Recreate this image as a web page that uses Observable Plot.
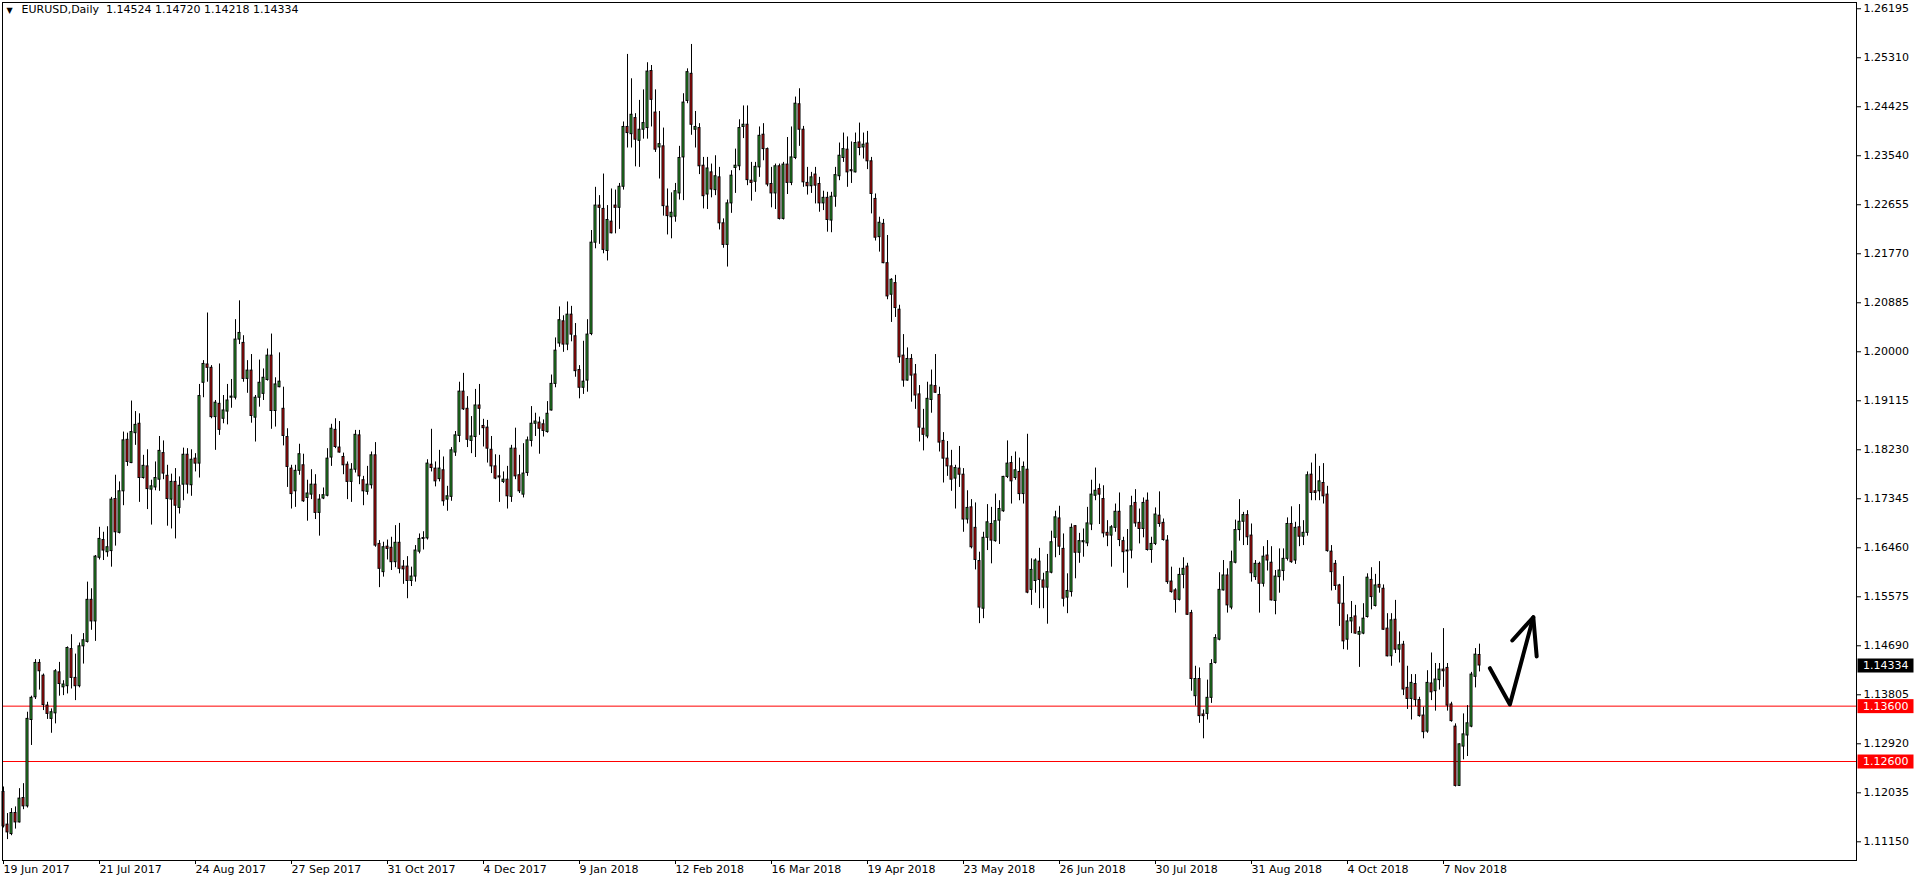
<!DOCTYPE html>
<html><head><meta charset="utf-8">
<script src="https://cdn.jsdelivr.net/npm/d3@7"></script>
<script src="https://cdn.jsdelivr.net/npm/@observablehq/plot@0.6"></script>
<style>
html,body{margin:0;padding:0;background:#fff;}
#chart svg{display:block;}
</style></head><body><div id="chart"></div>
<script>
const symbolName = "EURUSD,Daily";
const opens = [
1.1205,1.1146,1.1129,1.1167,1.1150,1.1194,1.1179,1.1335,1.1376,1.1438,
1.1415,1.1361,1.1337,1.1347,1.1421,1.1394,1.1396,1.1463,1.1411,1.1396,
1.1468,1.1476,1.1552,1.1513,1.1628,1.1660,1.1638,1.1640,1.1734,1.1673,
1.1748,1.1841,1.1799,1.1853,1.1870,1.1772,1.1793,1.1751,1.1755,1.1769,
1.1817,1.1776,1.1733,1.1765,1.1718,1.1760,1.1814,1.1759,1.1807,1.1798,
1.1944,1.1977,1.1971,1.1882,1.1906,1.1879,1.1892,1.1917,1.1917,1.2022,
1.2016,1.1951,1.1966,1.1881,1.1917,1.1924,1.1949,1.1993,1.1893,1.1936,
1.1897,1.1846,1.1789,1.1748,1.1785,1.1795,1.1736,1.1742,1.1760,1.1709,
1.1735,1.1740,1.1809,1.1859,1.1827,1.1810,1.1796,1.1765,1.1787,1.1849,
1.1768,1.1747,1.1759,1.1813,1.1653,1.1602,1.1648,1.1646,1.1620,1.1655,
1.1612,1.1612,1.1586,1.1594,1.1639,1.1662,1.1663,1.1796,1.1789,1.1770,
1.1786,1.1733,1.1738,1.1818,1.1848,1.1928,1.1897,1.1839,1.1846,1.1903,
1.1866,1.1863,1.1823,1.1793,1.1775,1.1765,1.1769,1.1738,1.1825,1.1777,
1.1742,1.1781,1.1839,1.1870,1.1872,1.1869,1.1855,1.1894,1.1942,1.2015,
1.2055,1.2013,1.2067,1.2028,1.1967,1.1935,1.1948,1.2032,1.2197,1.2264,
1.2258,1.2182,1.2235,1.2264,1.2260,1.2298,1.2406,1.2393,1.2422,1.2381,
1.2401,1.2404,1.2507,1.2432,1.2369,1.2371,1.2262,1.2243,1.2244,1.2286,
1.2351,1.2453,1.2502,1.2401,1.2404,1.2336,1.2284,1.2324,1.2292,1.2315,
1.2232,1.2193,1.2268,1.2332,1.2335,1.2406,1.2410,1.2309,1.2307,1.2333,
1.2392,1.2366,1.2303,1.2286,1.2335,1.2240,1.2338,1.2305,1.2350,1.2447,
1.2401,1.2305,1.2299,1.2320,1.2303,1.2268,1.2278,1.2237,1.2280,1.2317,
1.2350,1.2365,1.2328,1.2324,1.2378,1.2369,1.2376,1.2344,1.2276,1.2207,
1.2231,1.2160,1.2103,1.2124,1.2076,1.1993,1.1948,1.1987,1.1959,1.1923,
1.1861,1.1847,1.1913,1.1938,1.1922,1.1839,1.1807,1.1793,1.1771,1.1789,
1.1778,1.1697,1.1719,1.1682,1.1622,1.1536,1.1664,1.1689,1.1658,1.1695,
1.1712,1.1774,1.1799,1.1772,1.1783,1.1743,1.1787,1.1570,1.1586,1.1621,
1.1587,1.1574,1.1601,1.1664,1.1699,1.1644,1.1556,1.1566,1.1685,1.1637,
1.1656,1.1654,1.1688,1.1740,1.1752,1.1734,1.1673,1.1668,1.1682,1.1711,
1.1658,1.1641,1.1641,1.1727,1.1691,1.1680,1.1731,1.1642,1.1653,1.1704,
1.1691,1.1659,1.1585,1.1569,1.1552,1.1597,1.1612,1.1528,1.1378,1.1409,
1.1345,1.1346,1.1375,1.1438,1.1480,1.1569,1.1596,1.1538,1.1619,1.1678,
1.1693,1.1705,1.1668,1.1593,1.1617,1.1581,1.1632,1.1619,1.1550,1.1593,
1.1604,1.1626,1.1689,1.1623,1.1683,1.1666,1.1673,1.1778,1.1748,1.1748,
1.1763,1.1742,1.1639,1.1617,1.1578,1.1545,1.1480,1.1513,1.1522,1.1489,
1.1491,1.1521,1.1588,1.1541,1.1579,1.1572,1.1500,1.1450,1.1516,1.1462,
1.1471,1.1393,1.1373,1.1400,1.1371,1.1343,1.1314,1.1401,1.1387,1.1407,
1.1426,1.1429,1.1363,1.1323,1.1216,1.1287,1.1307,1.1323,1.1413,1.14524];
const highs = [
1.1214,1.1166,1.1175,1.1178,1.1211,1.1220,1.1349,1.1378,1.1444,1.1444,
1.1418,1.1367,1.1355,1.1426,1.1439,1.1406,1.1467,1.1489,1.1454,1.1474,
1.1491,1.1584,1.1572,1.1632,1.1683,1.1674,1.1684,1.1737,1.1777,1.1765,
1.1855,1.1853,1.1911,1.1892,1.1888,1.1813,1.1823,1.1768,1.1801,1.1847,
1.1839,1.1795,1.1779,1.1789,1.1774,1.1826,1.1825,1.1823,1.1816,1.1941,
1.1984,1.2070,1.1975,1.1912,1.1978,1.1921,1.1941,1.1950,1.2058,1.2092,
1.2029,1.1984,1.1995,1.1921,1.1985,1.1969,1.2005,1.2032,1.1953,1.1998,
1.1936,1.1861,1.1795,1.1795,1.1833,1.1815,1.1768,1.1787,1.1778,1.1742,
1.1754,1.1825,1.1869,1.1879,1.1874,1.1817,1.1801,1.1798,1.1858,1.1858,
1.1775,1.1793,1.1819,1.1836,1.1659,1.1656,1.1660,1.1665,1.1686,1.1690,
1.1623,1.1630,1.1611,1.1650,1.1671,1.1675,1.1805,1.1860,1.1801,1.1822,
1.1810,1.1757,1.1827,1.1856,1.1945,1.1961,1.1919,1.1883,1.1932,1.1941,
1.1878,1.1876,1.1847,1.1814,1.1813,1.1783,1.1793,1.1831,1.1862,1.1813,
1.1834,1.1846,1.1901,1.1889,1.1882,1.1877,1.1910,1.1958,1.2025,1.2081,
1.2065,1.2090,1.2082,1.2051,1.1975,1.2019,1.2058,1.2219,1.2297,1.2282,
1.2321,1.2264,1.2294,1.2292,1.2304,1.2415,1.2537,1.2493,1.2430,1.2454,
1.2473,1.2522,1.2517,1.2473,1.2434,1.2404,1.2294,1.2287,1.2304,1.2371,
1.2466,1.2511,1.2555,1.2434,1.2412,1.2351,1.2351,1.2339,1.2354,1.2333,
1.2240,1.2274,1.2327,1.2366,1.2419,1.2444,1.2444,1.2342,1.2342,1.2406,
1.2412,1.2368,1.2333,1.2339,1.2339,1.2342,1.2387,1.2406,1.2460,1.2475,
1.2407,1.2333,1.2324,1.2333,1.2315,1.2290,1.2288,1.2288,1.2333,1.2377,
1.2395,1.2388,1.2379,1.2395,1.2413,1.2395,1.2398,1.2351,1.2285,1.2243,
1.2239,1.2210,1.2132,1.2138,1.2084,1.2031,1.2007,1.1995,1.1977,1.1939,
1.1896,1.1945,1.1967,1.1995,1.1936,1.1854,1.1838,1.1822,1.1795,1.1829,
1.1789,1.1749,1.1733,1.1727,1.1638,1.1674,1.1724,1.1719,1.1743,1.1731,
1.1775,1.1839,1.1811,1.1819,1.1808,1.1801,1.1851,1.1626,1.1626,1.1645,
1.1600,1.1634,1.1676,1.1712,1.1721,1.1671,1.1599,1.1689,1.1686,1.1672,
1.1680,1.1719,1.1768,1.1790,1.1761,1.1758,1.1695,1.1686,1.1725,1.1745,
1.1665,1.1679,1.1739,1.1751,1.1716,1.1736,1.1745,1.1665,1.1718,1.1747,
1.1698,1.1668,1.1611,1.1572,1.1609,1.1628,1.1618,1.1533,1.1432,1.1429,
1.1353,1.1407,1.1444,1.1489,1.1601,1.1623,1.1608,1.1640,1.1696,1.1733,
1.1710,1.1713,1.1689,1.1623,1.1620,1.1648,1.1659,1.1648,1.1605,1.1644,
1.1644,1.1700,1.1720,1.1692,1.1724,1.1695,1.1783,1.1799,1.1815,1.1793,
1.1798,1.1757,1.1650,1.1623,1.1580,1.1594,1.1525,1.1549,1.1542,1.1503,
1.1545,1.1599,1.1610,1.1598,1.1621,1.1579,1.1527,1.1527,1.1551,1.1494,
1.1477,1.1432,1.1417,1.1417,1.1376,1.1358,1.1424,1.1456,1.1437,1.1437,
1.1500,1.1437,1.1367,1.1328,1.1292,1.1346,1.1361,1.1421,1.1464,1.14720];
const lows = [
1.1140,1.1119,1.1126,1.1138,1.1149,1.1173,1.1176,1.1289,1.1372,1.1389,
1.1352,1.1336,1.1311,1.1328,1.1378,1.1379,1.1382,1.1391,1.1370,1.1393,
1.1436,1.1474,1.1497,1.1477,1.1624,1.1623,1.1629,1.1611,1.1649,1.1671,
1.1722,1.1793,1.1798,1.1831,1.1728,1.1770,1.1715,1.1687,1.1749,1.1748,
1.1769,1.1685,1.1680,1.1662,1.1707,1.1731,1.1743,1.1739,1.1783,1.1772,
1.1917,1.1945,1.1879,1.1822,1.1849,1.1870,1.1868,1.1898,1.1913,1.2013,
1.1945,1.1925,1.1871,1.1837,1.1900,1.1912,1.1947,1.1860,1.1864,1.1935,
1.1830,1.1755,1.1716,1.1719,1.1777,1.1728,1.1694,1.1733,1.1697,1.1667,
1.1733,1.1738,1.1793,1.1825,1.1817,1.1778,1.1733,1.1728,1.1781,1.1760,
1.1722,1.1741,1.1752,1.1647,1.1574,1.1593,1.1624,1.1605,1.1610,1.1599,
1.1580,1.1554,1.1576,1.1584,1.1635,1.1642,1.1660,1.1783,1.1756,1.1765,
1.1721,1.1712,1.1730,1.1811,1.1836,1.1894,1.1827,1.1816,1.1809,1.1849,
1.1828,1.1799,1.1780,1.1769,1.1728,1.1762,1.1716,1.1728,1.1769,1.1744,
1.1736,1.1775,1.1828,1.1847,1.1815,1.1846,1.1853,1.1893,1.1935,1.2008,
1.1999,1.2002,1.2018,1.1954,1.1915,1.1923,1.1927,1.2029,1.2186,1.2194,
1.2177,1.2164,1.2213,1.2213,1.2221,1.2292,1.2368,1.2368,1.2334,1.2333,
1.2384,1.2384,1.2406,1.2360,1.2312,1.2245,1.2211,1.2204,1.2234,1.2274,
1.2273,1.2448,1.2391,1.2368,1.2320,1.2258,1.2257,1.2278,1.2282,1.2220,
1.2187,1.2153,1.2250,1.2286,1.2327,1.2385,1.2300,1.2272,1.2288,1.2315,
1.2345,1.2298,1.2260,1.2257,1.2238,1.2238,1.2284,1.2300,1.2347,1.2371,
1.2297,1.2283,1.2286,1.2267,1.2252,1.2255,1.2216,1.2215,1.2261,1.2309,
1.2342,1.2297,1.2304,1.2323,1.2354,1.2348,1.2329,1.2249,1.2200,1.2180,
1.2159,1.2094,1.2053,1.2062,1.1979,1.1936,1.1947,1.1909,1.1896,1.1837,
1.1821,1.1843,1.1889,1.1925,1.1819,1.1763,1.1775,1.1748,1.1716,1.1755,
1.1674,1.1689,1.1644,1.1606,1.1509,1.1518,1.1641,1.1617,1.1656,1.1652,
1.1710,1.1771,1.1725,1.1768,1.1731,1.1725,1.1563,1.1542,1.1564,1.1536,
1.1536,1.1508,1.1599,1.1628,1.1632,1.1539,1.1527,1.1557,1.1590,1.1618,
1.1629,1.1648,1.1677,1.1731,1.1688,1.1664,1.1648,1.1611,1.1674,1.1648,
1.1600,1.1573,1.1626,1.1683,1.1653,1.1664,1.1640,1.1618,1.1650,1.1683,
1.1658,1.1580,1.1564,1.1528,1.1550,1.1572,1.1524,1.1387,1.1360,1.1329,
1.1301,1.1335,1.1365,1.1436,1.1478,1.1568,1.1528,1.1534,1.1617,1.1658,
1.1650,1.1650,1.1584,1.1587,1.1528,1.1575,1.1604,1.1550,1.1525,1.1564,
1.1586,1.1622,1.1618,1.1616,1.1648,1.1650,1.1667,1.1731,1.1731,1.1731,
1.1725,1.1638,1.1568,1.1569,1.1504,1.1462,1.1461,1.1491,1.1490,1.1430,
1.1489,1.1519,1.1534,1.1539,1.1564,1.1497,1.1449,1.1432,1.1455,1.1438,
1.1379,1.1354,1.1335,1.1359,1.1340,1.1301,1.1311,1.1370,1.1351,1.1389,
1.1394,1.1351,1.1331,1.1214,1.1215,1.1263,1.1269,1.1321,1.1393,1.14218];
const closes = [
1.1143,1.1132,1.1167,1.1150,1.1193,1.1179,1.1337,1.1375,1.1438,1.1423,
1.1362,1.1346,1.1349,1.1423,1.1400,1.1399,1.1465,1.1411,1.1396,1.1468,
1.1479,1.1552,1.1513,1.1630,1.1662,1.1641,1.1647,1.1733,1.1674,1.1748,
1.1840,1.1801,1.1855,1.1868,1.1772,1.1794,1.1752,1.1757,1.1772,1.1821,
1.1780,1.1734,1.1765,1.1722,1.1758,1.1814,1.1760,1.1805,1.1798,1.1920,
1.1978,1.1971,1.1882,1.1908,1.1859,1.1894,1.1912,1.1919,1.2022,1.2034,
1.1951,1.1966,1.1884,1.1917,1.1944,1.1953,1.1993,1.1893,1.1941,1.1946,
1.1848,1.1792,1.1743,1.1785,1.1815,1.1730,1.1744,1.1760,1.1709,1.1733,
1.1741,1.1807,1.1861,1.1828,1.1818,1.1795,1.1765,1.1787,1.1850,1.1775,
1.1748,1.1760,1.1813,1.1650,1.1608,1.1647,1.1644,1.1620,1.1655,1.1608,
1.1607,1.1586,1.1594,1.1641,1.1662,1.1663,1.1798,1.1790,1.1766,1.1789,
1.1730,1.1739,1.1822,1.1849,1.1928,1.1896,1.1841,1.1847,1.1903,1.1897,
1.1862,1.1825,1.1793,1.1771,1.1773,1.1769,1.1739,1.1825,1.1775,1.1748,
1.1780,1.1840,1.1870,1.1874,1.1861,1.1857,1.1888,1.1942,1.2002,1.2057,
1.2013,1.2067,1.2031,1.1965,1.1935,1.1946,1.2031,1.2197,1.2264,1.2260,
1.2184,1.2238,1.2214,1.2260,1.2298,1.2406,1.2395,1.2428,1.2383,1.2401,
1.2413,1.2506,1.2455,1.2365,1.2375,1.2263,1.2245,1.2251,1.2290,1.2350,
1.2450,1.2505,1.2410,1.2406,1.2335,1.2281,1.2331,1.2293,1.2317,1.2232,
1.2193,1.2268,1.2318,1.2336,1.2404,1.2410,1.2310,1.2305,1.2334,1.2390,
1.2366,1.2302,1.2286,1.2335,1.2240,1.2338,1.2305,1.2351,1.2448,1.2401,
1.2306,1.2299,1.2315,1.2300,1.2268,1.2278,1.2238,1.2280,1.2319,1.2354,
1.2366,1.2324,1.2326,1.2377,1.2368,1.2374,1.2344,1.2285,1.2206,1.2233,
1.2160,1.2100,1.2130,1.2079,1.1990,1.1948,1.1987,1.1957,1.1921,1.1863,
1.1850,1.1915,1.1939,1.1926,1.1836,1.1807,1.1793,1.1769,1.1790,1.1778,
1.1697,1.1718,1.1647,1.1624,1.1538,1.1664,1.1692,1.1659,1.1694,1.1716,
1.1774,1.1798,1.1766,1.1786,1.1743,1.1792,1.1565,1.1606,1.1623,1.1588,
1.1574,1.1602,1.1656,1.1701,1.1648,1.1554,1.1568,1.1682,1.1637,1.1658,
1.1658,1.1690,1.1742,1.1749,1.1742,1.1672,1.1668,1.1683,1.1711,1.1660,
1.1638,1.1640,1.1721,1.1690,1.1680,1.1727,1.1642,1.1653,1.1706,1.1689,
1.1660,1.1584,1.1566,1.1552,1.1597,1.1608,1.1525,1.1409,1.1409,1.1342,
1.1342,1.1375,1.1436,1.1483,1.1570,1.1596,1.1542,1.1620,1.1678,1.1693,
1.1705,1.1665,1.1600,1.1617,1.1581,1.1630,1.1623,1.1551,1.1594,1.1605,
1.1626,1.1689,1.1620,1.1682,1.1666,1.1673,1.1777,1.1745,1.1745,1.1766,
1.1739,1.1640,1.1602,1.1577,1.1545,1.1477,1.1513,1.1519,1.1491,1.1494,
1.1518,1.1592,1.1557,1.1578,1.1574,1.1498,1.1450,1.1515,1.1462,1.1470,
1.1390,1.1373,1.1402,1.1371,1.1342,1.1313,1.1402,1.1385,1.1408,1.1426,
1.1423,1.1361,1.1333,1.1216,1.1291,1.1309,1.1329,1.1417,1.1453,1.14334];

const dateLabels = ["19 Jun 2017","21 Jul 2017","24 Aug 2017","27 Sep 2017","31 Oct 2017","4 Dec 2017","9 Jan 2018","12 Feb 2018","16 Mar 2018","19 Apr 2018","23 May 2018","26 Jun 2018","30 Jul 2018","31 Aug 2018","4 Oct 2018","7 Nov 2018"];
const dateLabelBars = [0,24,48,72,96,120,144,168,192,216,240,264,288,312,336,360];
const priceTicks = [1.11150,1.12035,1.12920,1.13805,1.14690,1.15575,1.16460,1.17345,1.18230,1.19115,1.20000,1.20885,1.21770,1.22655,1.23540,1.24425,1.25310,1.26195];
const levelLines = [1.13600, 1.12600];
const arrowStroke = [{bar:371.6, price:1.14285},{bar:376.6, price:1.13630},{bar:382.45, price:1.15206}];
const arrowHead = [{bar:377.2, price:1.14786},{bar:382.45, price:1.15206},{bar:383.3, price:1.14497}];

const GREEN = "#32b432", RED = "#e01010";
const W = 1916, H = 884, ML = 2, MT = 2, MR = 60, MB = 24;
const candles = opens.map((o, i) => ({i, o, h: highs[i], l: lows[i], c: closes[i]}));
const lastBar = candles[candles.length - 1];
const fmt5 = d3.format(".5f");
const labelByBar = new Map(dateLabelBars.map((b, k) => [b, dateLabels[k]]));
const minBody = 0.00016;

const plot = Plot.plot({
  width: W, height: H,
  marginLeft: ML, marginTop: MT, marginRight: MR, marginBottom: MB,
  style: {fontFamily: "DejaVu Sans", fontSize: "11px", color: "#000", background: "#fff", overflow: "visible"},
  x: {domain: [-0.25, -0.25 + (W - MR - ML) / 4], axis: null},
  y: {domain: [1.108123, 1.263079], axis: null},
  marks: [
    Plot.ruleY(levelLines, {stroke: "#ff0000", strokeWidth: 1}),
    Plot.ruleX(candles, {x: "i", y1: "l", y2: "h", stroke: "#000", strokeWidth: 1}),
    Plot.rect(candles, {
      x1: d => d.i - 0.25, x2: d => d.i + 0.25,
      y1: "o",
      y2: d => Math.abs(d.c - d.o) < minBody ? d.o + (d.c >= d.o ? minBody : -minBody) : d.c,
      fill: d => d.c >= d.o ? GREEN : RED, stroke: "#000", strokeWidth: 1
    }),
    Plot.axisY({anchor: "right", ticks: priceTicks, tickSize: 4, tickPadding: 3, tickFormat: fmt5, fontSize: 11}),
    Plot.axisX({anchor: "bottom", ticks: dateLabelBars, tickSize: 4, tickPadding: 1, textAnchor: "start", dx: 0, tickFormat: d => labelByBar.get(d), fontSize: 11}),
    Plot.frame({stroke: "#000"}),
    Plot.line(arrowStroke, {x: "bar", y: "price", stroke: "#000", strokeWidth: 4, strokeLinecap: "round", strokeLinejoin: "round"}),
    Plot.line(arrowHead, {x: "bar", y: "price", stroke: "#000", strokeWidth: 4, strokeLinecap: "round", strokeLinejoin: "round"}),
    Plot.text(["\u25BC"], {frameAnchor: "top-left", dx: 4, dy: 5, fontSize: 8, fill: "#000"}),
    Plot.text([`${symbolName}  ${fmt5(lastBar.o)} ${fmt5(lastBar.h)} ${fmt5(lastBar.l)} ${fmt5(lastBar.c)}`],
      {frameAnchor: "top-left", dx: 19, dy: 3, fontSize: 11, fill: "#000"})
  ]
});

// price boxes on the right axis, placed with the plot's own y scale
const yScale = plot.scale("y");
const boxes = [
  {v: levelLines[0], bg: "#ff0000"},
  {v: levelLines[1], bg: "#ff0000"},
  {v: lastBar.c, bg: "#000000"}
];
const g = d3.select(plot).append("g").attr("text-anchor", "start");
for (const b of boxes) {
  const yy = yScale.apply(b.v) + 0.5;
  g.append("rect").attr("x", W - MR + 1.5).attr("y", yy - 7).attr("width", 56).attr("height", 14).attr("fill", b.bg);
  g.append("text").attr("x", W - MR + 7).attr("y", yy).attr("dy", "0.35em").attr("text-anchor", "start")
    .attr("fill", "#fff").attr("font-size", 11).text(fmt5(b.v));
}
document.getElementById("chart").appendChild(plot);
</script>
</body></html>
